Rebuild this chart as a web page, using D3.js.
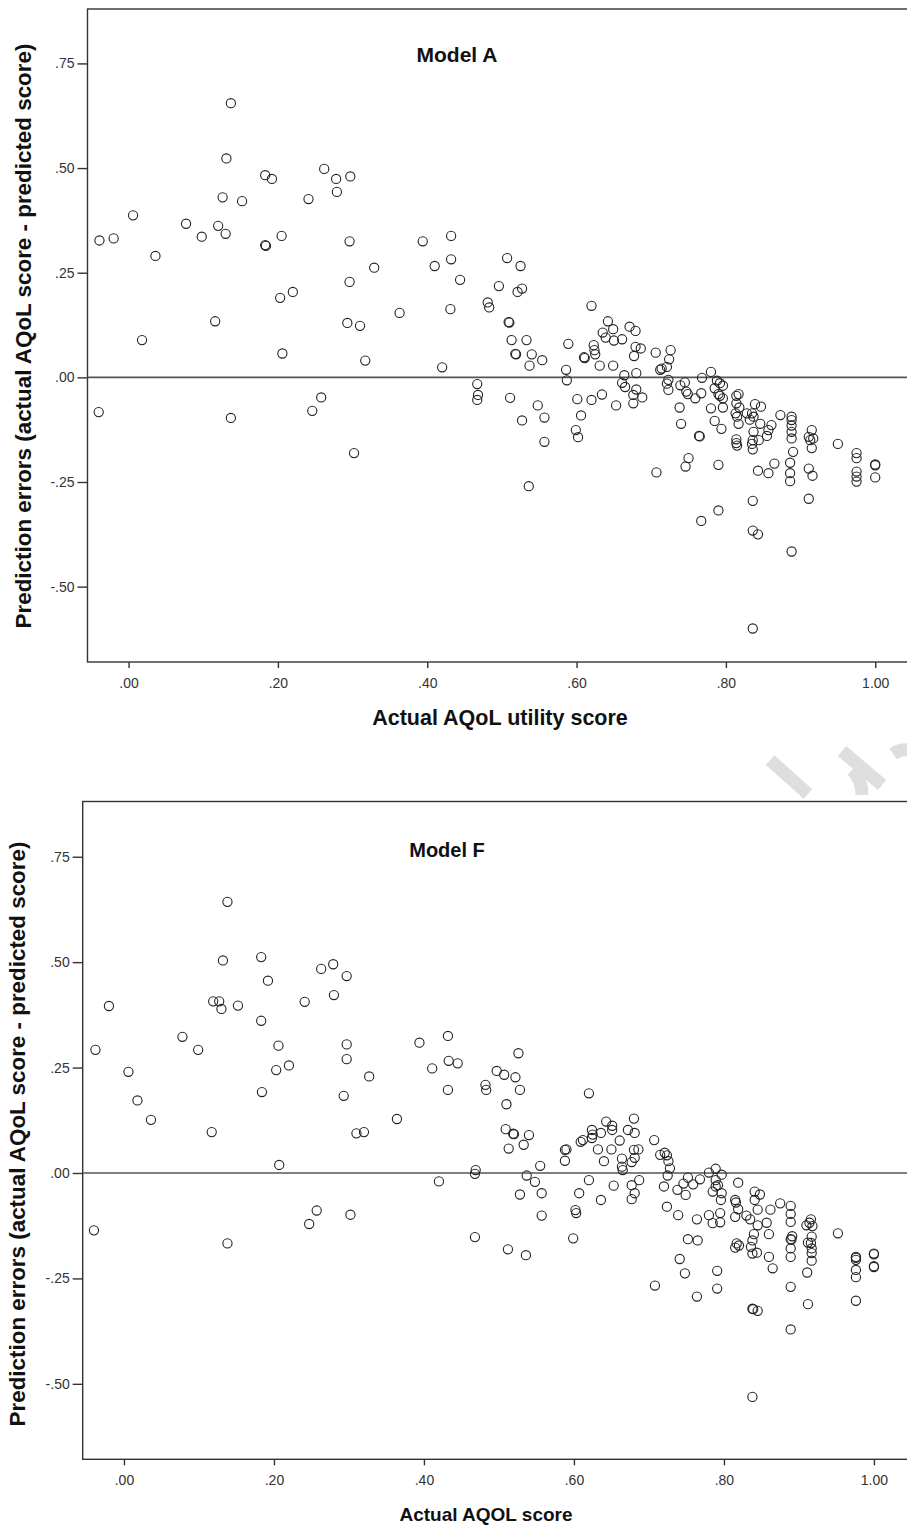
<!DOCTYPE html>
<html>
<head>
<meta charset="utf-8">
<script src="https://cdn.jsdelivr.net/npm/d3@7"></script>
<style>
  html, body { margin: 0; padding: 0; background: #fff; }
  svg { display: block; }
  text { font-family: "Liberation Sans", Arial, sans-serif; }
</style>
</head>
<body>
<svg id="chart" width="907" height="1529"></svg>
<script>
// ---------------- DATA ----------------
const xTickValues = [0, 0.2, 0.4, 0.6, 0.8, 1.0];
const xTickLabels = [".00", ".20", ".40", ".60", ".80", "1.00"];
const yTickValues = [0.75, 0.5, 0.25, 0, -0.25, -0.5];
const yTickLabels = [".75", ".50", ".25", ".00", "-.25", "-.50"];

const yTitle = "Prediction errors (actual AQoL score - predicted score)";
const titleA = "Model A";
const titleF = "Model F";
const xTitleA = "Actual AQoL utility score";
const xTitleF = "Actual AQOL score";

// [actual AQoL score, prediction error]
const modelA = [
[0.137,0.655],[0.131,0.523],[0.183,0.483],[0.192,0.474],[0.262,0.498],[0.278,0.474],[0.297,0.480],[0.279,0.443],
[0.241,0.426],[0.126,0.430],[0.152,0.421],[0.006,0.387],[0.077,0.367],[0.120,0.362],[0.130,0.343],[0.098,0.336],
[-0.039,0.327],[-0.020,0.332],[0.183,0.316],[0.184,0.314],[0.205,0.338],[0.296,0.325],[0.036,0.290],[0.296,0.228],
[0.220,0.204],[0.203,0.190],[0.116,0.134],[0.293,0.130],[0.310,0.123],[0.018,0.089],[0.206,0.057],[0.317,0.040],
[-0.040,-0.083],[0.137,-0.097],[0.258,-0.048],[0.246,-0.080],[0.302,-0.181],
[0.329,0.262],[0.363,0.154],[0.394,0.325],[0.432,0.338],[0.410,0.266],[0.432,0.282],[0.444,0.233],[0.431,0.163],
[0.420,0.024],[0.507,0.285],[0.525,0.266],[0.496,0.218],[0.527,0.212],[0.521,0.204],[0.481,0.179],[0.483,0.167],
[0.509,0.132],[0.510,0.131],[0.513,0.089],[0.533,0.089],[0.518,0.056],[0.519,0.055],[0.540,0.055],[0.537,0.028],
[0.554,0.041],[0.467,-0.016],[0.468,-0.042],[0.467,-0.054],[0.511,-0.049],[0.548,-0.067],[0.527,-0.103],[0.557,-0.096],
[0.557,-0.154],[0.536,-0.260],[0.589,0.080],[0.586,0.018],[0.587,-0.007],[0.620,0.171],[0.642,0.134],[0.649,0.115],
[0.635,0.107],[0.639,0.095],[0.650,0.088],[0.661,0.091],[0.671,0.121],[0.679,0.111],[0.623,0.077],[0.624,0.065],
[0.625,0.055],[0.610,0.048],[0.611,0.046],[0.631,0.028],[0.649,0.028],[0.679,0.073],[0.677,0.051],[0.680,0.010],
[0.664,0.005],[0.661,-0.013],[0.665,-0.023],[0.680,-0.029],[0.676,-0.042],[0.676,-0.062],[0.653,-0.067],[0.634,-0.041],
[0.620,-0.054],[0.601,-0.052],[0.606,-0.091],[0.599,-0.126],[0.602,-0.143],
[0.686,0.069],[0.688,-0.048],[0.706,0.059],[0.726,0.065],[0.724,0.043],[0.721,0.025],[0.714,0.021],[0.712,0.018],
[0.723,-0.006],[0.721,-0.015],[0.723,-0.030],[0.745,-0.012],[0.739,-0.019],[0.747,-0.034],[0.749,-0.040],[0.759,-0.050],
[0.767,-0.038],[0.768,-0.001],[0.780,0.013],[0.788,-0.008],[0.792,-0.014],[0.796,-0.020],[0.785,-0.026],[0.790,-0.040],
[0.792,-0.044],[0.796,-0.050],[0.796,-0.072],[0.738,-0.072],[0.780,-0.074],[0.740,-0.111],[0.785,-0.104],[0.794,-0.123],
[0.764,-0.140],[0.765,-0.141],[0.814,-0.044],[0.817,-0.040],[0.814,-0.062],[0.818,-0.072],[0.813,-0.086],[0.815,-0.094],
[0.817,-0.111],[0.814,-0.148],[0.814,-0.157],[0.815,-0.163],[0.839,-0.064],[0.847,-0.070],[0.828,-0.086],[0.835,-0.086],
[0.837,-0.094],[0.832,-0.101],[0.846,-0.111],[0.837,-0.130],[0.836,-0.150],[0.835,-0.159],[0.836,-0.172],[0.844,-0.150],
[0.861,-0.114],[0.857,-0.126],[0.855,-0.140],[0.873,-0.090],[0.888,-0.094],[0.888,-0.102],[0.888,-0.115],[0.888,-0.130],
[0.888,-0.146],[0.890,-0.178],[0.886,-0.204],[0.886,-0.229],[0.886,-0.248],[0.865,-0.206],[0.857,-0.229],[0.843,-0.223],
[0.790,-0.209],[0.750,-0.193],[0.746,-0.213],[0.707,-0.227],[0.915,-0.126],[0.911,-0.142],[0.917,-0.146],[0.913,-0.150],
[0.915,-0.169],[0.911,-0.218],[0.916,-0.235],[0.950,-0.159],[0.975,-0.181],[0.975,-0.193],[0.975,-0.225],[0.975,-0.237],
[0.975,-0.249],[1.0,-0.208],[1.0,-0.210],[1.0,-0.239],[0.911,-0.290],[0.836,-0.295],[0.790,-0.318],[0.767,-0.343],
[0.836,-0.366],[0.843,-0.375],[0.888,-0.416],[0.836,-0.600]
];

const modelF = [
[0.138,0.643],[0.132,0.504],[0.183,0.512],[0.192,0.456],[0.263,0.484],[0.279,0.495],[0.297,0.467],[0.280,0.422],
[0.241,0.406],[-0.020,0.396],[0.119,0.407],[0.127,0.407],[0.130,0.389],[0.152,0.397],[0.183,0.361],[0.078,0.323],
[-0.038,0.292],[0.099,0.292],[0.206,0.302],[0.297,0.305],[0.297,0.270],[0.203,0.244],[0.220,0.255],[0.006,0.240],
[0.327,0.229],[0.184,0.192],[0.293,0.183],[0.018,0.172],[0.036,0.126],[0.117,0.097],[0.310,0.094],[0.320,0.097],
[0.207,0.019],[-0.040,-0.136],[0.138,-0.167],[0.257,-0.089],[0.247,-0.121],[0.302,-0.099],
[0.364,0.128],[0.394,0.309],[0.432,0.325],[0.411,0.248],[0.433,0.266],[0.445,0.260],[0.432,0.197],[0.526,0.284],
[0.497,0.242],[0.507,0.233],[0.522,0.227],[0.482,0.209],[0.483,0.197],[0.528,0.197],[0.510,0.163],[0.509,0.104],
[0.519,0.093],[0.520,0.092],[0.540,0.090],[0.533,0.067],[0.513,0.058],[0.555,0.017],[0.469,0.007],[0.468,-0.002],
[0.420,-0.020],[0.537,-0.006],[0.548,-0.021],[0.528,-0.051],[0.557,-0.048],[0.557,-0.101],[0.468,-0.152],[0.512,-0.181],
[0.536,-0.195],[0.599,-0.155],[0.602,-0.088],[0.603,-0.095],[0.607,-0.048],[0.620,-0.017],[0.636,-0.064],[0.653,-0.030],
[0.677,-0.029],[0.677,-0.062],[0.681,-0.048],[0.588,0.055],[0.590,0.056],[0.588,0.029],[0.620,0.189],[0.609,0.074],
[0.612,0.078],[0.624,0.102],[0.625,0.091],[0.624,0.083],[0.636,0.095],[0.643,0.122],[0.651,0.112],[0.651,0.102],
[0.632,0.056],[0.650,0.056],[0.661,0.077],[0.640,0.028],[0.664,0.034],[0.664,0.015],[0.665,0.007],[0.672,0.102],
[0.680,0.129],[0.681,0.095],[0.680,0.055],[0.681,0.036],[0.677,0.026],
[0.686,0.056],[0.687,-0.017],[0.707,0.078],[0.715,0.043],[0.721,0.048],[0.724,0.042],[0.726,0.028],[0.728,0.011],
[0.725,-0.006],[0.720,-0.032],[0.738,-0.040],[0.746,-0.025],[0.752,-0.011],[0.749,-0.052],[0.759,-0.027],[0.768,-0.015],
[0.780,0.001],[0.789,0.010],[0.797,-0.004],[0.789,-0.017],[0.792,-0.029],[0.789,-0.032],[0.785,-0.044],[0.797,-0.048],
[0.796,-0.064],[0.724,-0.080],[0.739,-0.100],[0.764,-0.110],[0.780,-0.100],[0.785,-0.119],[0.795,-0.095],[0.795,-0.117],
[0.819,-0.023],[0.815,-0.064],[0.816,-0.070],[0.819,-0.086],[0.815,-0.104],[0.830,-0.101],[0.835,-0.110],[0.841,-0.044],
[0.848,-0.051],[0.841,-0.064],[0.845,-0.087],[0.845,-0.124],[0.840,-0.145],[0.838,-0.160],[0.836,-0.175],[0.838,-0.191],
[0.844,-0.189],[0.817,-0.167],[0.815,-0.177],[0.820,-0.172],[0.862,-0.087],[0.857,-0.118],[0.860,-0.145],[0.860,-0.199],
[0.865,-0.226],[0.875,-0.072],[0.889,-0.078],[0.889,-0.097],[0.889,-0.116],[0.889,-0.157],[0.890,-0.158],[0.891,-0.150],
[0.889,-0.179],[0.889,-0.199],[0.889,-0.270],[0.889,-0.371],[0.916,-0.110],[0.918,-0.126],[0.910,-0.124],[0.914,-0.118],
[0.917,-0.151],[0.912,-0.165],[0.916,-0.166],[0.917,-0.179],[0.917,-0.190],[0.917,-0.208],[0.911,-0.236],[0.912,-0.311],
[0.952,-0.143],[0.976,-0.199],[0.976,-0.201],[0.976,-0.206],[0.976,-0.230],[0.976,-0.247],[0.976,-0.303],[1.0,-0.191],
[1.0,-0.193],[1.0,-0.221],[1.0,-0.223],[0.838,-0.322],[0.839,-0.323],[0.845,-0.327],[0.791,-0.232],[0.791,-0.274],
[0.764,-0.293],[0.748,-0.238],[0.741,-0.204],[0.752,-0.157],[0.765,-0.160],[0.708,-0.267],[0.838,-0.531]
];

// ---------------- LAYOUT ----------------
const panels = [
  { data: modelA, title: titleA, xTitle: xTitleA, titleSize: 21, xTitleSize: 21.5,
    left: 87.5, right: 913, top: 9, bottom: 662,
    xDomain: [-0.055, 1.0506], yDomain: [-0.68, 0.88],
    titleX: 457, titleY: 62, xTitleX: 500, xTitleY: 725, yTitleX: 31, yTitleY: 336 },
  { data: modelF, title: titleF, xTitle: xTitleF, titleSize: 20, xTitleSize: 19,
    left: 82.7, right: 913, top: 801.5, bottom: 1459.3,
    xDomain: [-0.055, 1.0521], yDomain: [-0.679, 0.881],
    titleX: 447, titleY: 857, xTitleX: 486, xTitleY: 1521, yTitleX: 25, yTitleY: 1134 }
];

const svg = d3.select("#chart");

// faint watermark fragment between the panels
const wm = svg.append("g").attr("stroke", "#dedede").attr("fill", "none")
  .attr("stroke-width", 13).attr("stroke-linecap", "butt");
wm.append("path").attr("d", "M770,760 L808,794");
wm.append("path").attr("d", "M842,751 L882,785");
wm.append("path").attr("d", "M852,770 Q862,780 862,795");
wm.append("path").attr("d", "M893,754 Q900,749 910,750");

panels.forEach(p => {
  const x = d3.scaleLinear().domain(p.xDomain).range([p.left, p.right]);
  const y = d3.scaleLinear().domain(p.yDomain).range([p.bottom, p.top]);
  const g = svg.append("g");

  // frame
  g.append("rect")
    .attr("x", p.left).attr("y", p.top)
    .attr("width", p.right - p.left).attr("height", p.bottom - p.top)
    .attr("fill", "none").attr("stroke", "#333").attr("stroke-width", 1.4);

  // zero reference line
  g.append("line")
    .attr("x1", p.left).attr("x2", p.right)
    .attr("y1", y(0)).attr("y2", y(0))
    .attr("stroke", "#555").attr("stroke-width", 1.6);

  // axes
  const yAxis = d3.axisLeft(y).tickValues(yTickValues).tickSize(10).tickPadding(3)
    .tickFormat((d, i) => yTickLabels[i]);
  const ya = g.append("g").attr("transform", `translate(${p.left},0)`).call(yAxis);
  const xAxis = d3.axisBottom(x).tickValues(xTickValues).tickSize(6).tickPadding(10)
    .tickFormat((d, i) => xTickLabels[i]);
  const xa = g.append("g").attr("transform", `translate(0,${p.bottom})`).call(xAxis);
  [ya, xa].forEach(a => {
    a.select(".domain").remove();
    a.selectAll(".tick line").attr("stroke", "#333").attr("stroke-width", 1.4);
    a.selectAll(".tick text").attr("fill", "#333")
      .style("font-family", '"Liberation Sans", Arial, sans-serif').style("font-size", "14px");
  });

  // points
  g.append("g").selectAll("circle").data(p.data).join("circle")
    .attr("cx", d => x(d[0])).attr("cy", d => y(d[1])).attr("r", 4.6)
    .attr("fill", "none").attr("stroke", "#222").attr("stroke-width", 1.1);

  // texts
  g.append("text").attr("x", p.titleX).attr("y", p.titleY).attr("text-anchor", "middle")
    .attr("font-weight", "bold").attr("font-size", p.titleSize).attr("fill", "#111").text(p.title);
  g.append("text").attr("x", p.xTitleX).attr("y", p.xTitleY).attr("text-anchor", "middle")
    .attr("font-weight", "bold").attr("font-size", p.xTitleSize).attr("fill", "#111").text(p.xTitle);
  g.append("text").attr("transform", `translate(${p.yTitleX},${p.yTitleY}) rotate(-90)`)
    .attr("text-anchor", "middle")
    .attr("font-weight", "bold").attr("font-size", 22.4).attr("fill", "#111").text(yTitle);
});
</script>
</body>
</html>
